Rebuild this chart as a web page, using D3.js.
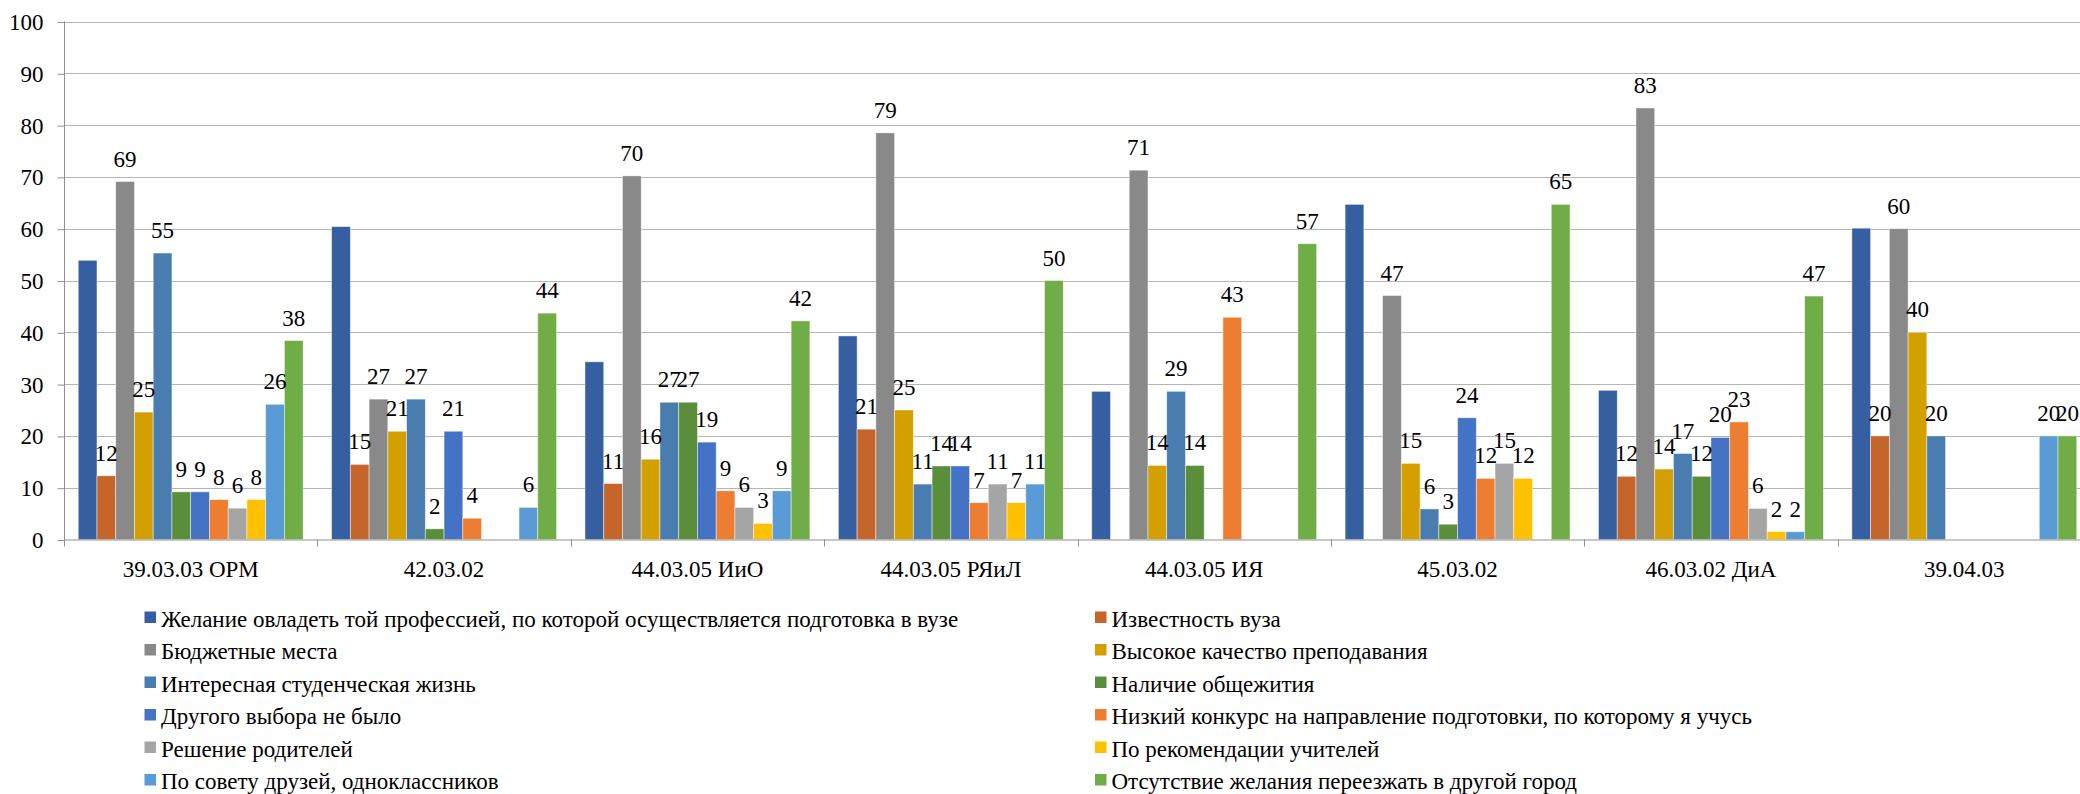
<!DOCTYPE html>
<html>
<head>
<meta charset="utf-8">
<script src="https://cdn.jsdelivr.net/npm/d3@7/dist/d3.min.js"></script>
<style>
  html, body { margin: 0; padding: 0; background: #fff; }
  svg { display: block; }
  svg text { font-family: "Liberation Serif", "Tinos", "Times New Roman", "DejaVu Serif", serif !important; fill: #000; }
</style>
</head>
<body>
<svg id="chart" width="2080" height="794"></svg>
<script>
const categories = ["39.03.03 ОРМ", "42.03.02", "44.03.05 ИиО", "44.03.05 РЯиЛ", "44.03.05 ИЯ", "45.03.02", "46.03.02 ДиА", "39.04.03"];

const seriesNames = [
  "Желание овладеть той профессией, по которой осуществляется подготовка в вузе",
  "Известность вуза",
  "Бюджетные места",
  "Высокое качество преподавания",
  "Интересная студенческая жизнь",
  "Наличие общежития",
  "Другого выбора не было",
  "Низкий конкурс на направление подготовки, по которому я учусь",
  "Решение родителей",
  "По рекомендации учителей",
  "По совету друзей, одноклассников",
  "Отсутствие желания переезжать в другой город"
];

const seriesColors = ["#365FA1", "#C5652A", "#898989", "#D3A000", "#4A7DAF", "#5A8E3A", "#4472C4", "#ED7D31", "#A5A5A5", "#FFC000", "#5B9BD5", "#70AD47"];

// whether the series shows data labels
const seriesLabeled = [false, true, true, true, true, true, true, true, true, true, true, true];

// values per series, one entry per category (null = no bar)
const sWish      = [53.9, 60.4, 34.3, 39.3, 28.6, 64.7, 28.8, 60.1];
const sFame      = [12.3, 14.5, 10.8, 21.3, null, null, 12.2, 20];
const sBudget    = [69.1, 27.1, 70.2, 78.5, 71.3, 47.1, 83.3, 60];
const sQuality   = [24.6, 20.9, 15.5, 25, 14.3, 14.7, 13.6, 40];
const sStudent   = [55.3, 27.1, 26.5, 10.7, 28.6, 5.9, 16.6, 20];
const sDorm      = [9.2, 2.06, 26.5, 14.2, 14.3, 2.95, 12.2, null];
const sNoChoice  = [9.2, 20.9, 18.8, 14.2, null, 23.5, 19.7, null];
const sLowComp   = [7.7, 4.1, 9.4, 7.1, 42.9, 11.8, 22.7, null];
const sParents   = [6.05, null, 6.2, 10.7, null, 14.7, 6.0, null];
const sTeachers  = [7.7, null, 3.1, 7.1, null, 11.8, 1.5, null];
const sFriends   = [26.1, 6.2, 9.4, 10.7, null, null, 1.5, 20];
const sStay      = [38.4, 43.7, 42.2, 50, 57.1, 64.7, 47.0, 20];

const seriesValues = [sWish, sFame, sBudget, sQuality, sStudent, sDorm, sNoChoice, sLowComp, sParents, sTeachers, sFriends, sStay];

const yTicks = [0, 10, 20, 30, 40, 50, 60, 70, 80, 90, 100];

// ---- layout ----
const FONT = '"Liberation Serif", "Tinos", "Times New Roman", "DejaVu Serif", serif';
const svg = d3.select("#chart").attr("font-family", FONT);
const plotLeft = 64, plotRight = 2091, plotTop = 21.5, plotBottom = 539.5;
const FS = 23;

const x0 = d3.scaleBand().domain(categories).range([plotLeft, plotRight]).paddingInner(0.1124).paddingOuter(0.0562);
const x1 = d3.scaleBand().domain(d3.range(seriesNames.length)).range([0, x0.bandwidth()]);
const y = d3.scaleLinear().domain([0, 100]).range([plotBottom, plotTop]);

// gridlines
svg.append("g").selectAll("line").data(yTicks.filter(d => d > 0)).join("line")
  .attr("x1", plotLeft).attr("x2", 2080)
  .attr("y1", d => Math.round(y(d)) + 0.5).attr("y2", d => Math.round(y(d)) + 0.5)
  .attr("stroke", "#B5B5B5").attr("stroke-width", 1);

// y axis
const yAxis = d3.axisLeft(y).tickValues(yTicks).tickSize(7).tickPadding(14).tickFormat(d3.format("d"));
const gy = svg.append("g").attr("transform", `translate(${plotLeft + 0.5},0)`).call(yAxis).attr("font-family", FONT);
gy.select(".domain").attr("stroke", "#8F8F8F").attr("d", `M0,${plotTop}V${plotBottom}`);
gy.selectAll(".tick line").attr("stroke", "#8F8F8F").attr("transform", "translate(0,0.5)");
gy.selectAll(".tick text").attr("font-size", FS).attr("fill", "#000").attr("dy", "0.35em");

// bars
const flat = [];
seriesValues.forEach((vals, si) => {
  vals.forEach((v, ci) => {
    if (v !== null && v !== undefined) flat.push({ si, ci, v });
  });
});

svg.append("g").selectAll("rect").data(flat).join("rect")
  .attr("x", d => x0(categories[d.ci]) + x1(d.si))
  .attr("width", x1.bandwidth())
  .attr("y", d => y(d.v))
  .attr("height", d => y(0) - y(d.v))
  .attr("fill", d => seriesColors[d.si])
  .attr("stroke", "#ffffff").attr("stroke-width", 0.8).attr("stroke-opacity", 0.55);

// x axis
const xAxisLine = svg.append("g");
xAxisLine.append("line").attr("x1", plotLeft).attr("x2", 2080)
  .attr("y1", plotBottom + 0.5).attr("y2", plotBottom + 0.5).attr("stroke", "#8F8F8F");
const boundaries = categories.map(c => x0(c) - x0.step() * x0.paddingOuter()).concat([plotRight]);
xAxisLine.selectAll("line.tk").data(boundaries).join("line").attr("class", "tk")
  .attr("x1", d => Math.round(d) + 0.5).attr("x2", d => Math.round(d) + 0.5)
  .attr("y1", plotBottom).attr("y2", plotBottom + 7).attr("stroke", "#8F8F8F");
xAxisLine.selectAll("text").data(categories).join("text")
  .attr("x", d => x0(d) + x0.bandwidth() / 2).attr("y", 577)
  .attr("text-anchor", "middle").attr("font-size", FS).text(d => d);

// data labels
const fmt = d3.format(".0f");
svg.append("g").selectAll("text").data(flat.filter(d => seriesLabeled[d.si])).join("text")
  .attr("x", d => x0(categories[d.ci]) + x1(d.si) + x1.bandwidth() / 2)
  .attr("y", d => y(d.v) - 15)
  .attr("text-anchor", "middle").attr("font-size", FS)
  .text(d => fmt(d.v));

// legend
const legend = svg.append("g");
const legendItems = seriesNames.map((n, i) => ({ n, i }));
const colX = [144.5, 1095], rowY0 = 626.5, rowStep = 32.5;
const li = legend.selectAll("g").data(legendItems).join("g")
  .attr("transform", d => `translate(${colX[d.i % 2]},${rowY0 + Math.floor(d.i / 2) * rowStep})`);
li.append("rect").attr("x", 0).attr("y", -15).attr("width", 11.5).attr("height", 11.5)
  .attr("fill", d => seriesColors[d.i]);
li.append("text").attr("x", 16.5).attr("y", 0).attr("font-size", FS).text(d => d.n);
</script>
</body>
</html>
